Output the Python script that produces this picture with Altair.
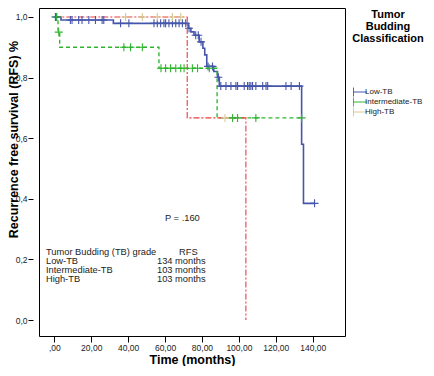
import altair as alt
import pandas as pd
import numpy as np

groups = ["Low-TB", "Intermediate-TB", "High-TB"]

# Kaplan-Meier step points (time in months, survival after the step)
low_t = [0, 3.6, 32.0, 72.5, 74.0, 75.7, 78.5, 80.5, 81.5, 82.6, 86.4, 88.4, 89.4, 134.0, 135.0, 141.0]
low_s = [1.0, 0.990, 0.979, 0.963, 0.951, 0.940, 0.918, 0.897, 0.875, 0.837, 0.820, 0.801, 0.772, 0.580, 0.385, 0.385]
low_cens = [0.6, 1.2, 8.7, 9.6, 13.2, 15.0, 18.7, 22.3, 25.9, 26.8, 35.9, 40.4, 54.0, 55.8, 57.6,
            59.4, 60.3, 62.1, 64.0, 65.8, 67.6, 69.4, 71.2, 73.0, 76.6, 78.0, 79.5, 83.3, 85.7, 88.9,
            90.2, 93.0, 95.7, 98.4, 99.3, 102.9, 104.7, 105.6, 106.5, 107.4, 109.2, 112.9, 114.7,
            115.6, 125.5, 128.3, 132.8, 141.0]

int_t = [0, 2.0, 2.9, 56.7, 88.2, 134.0]
int_s = [1.0, 0.95, 0.90, 0.831, 0.667, 0.667]
int_cens = [1.3, 2.4, 37.7, 41.3, 47.7, 57.8, 60.3, 63.0, 65.8, 68.5, 70.3, 74.8, 77.6, 84.0,
            96.6, 99.3, 109.2, 134.0]

high_t = [0, 72.0, 103.8]
high_s = [1.0, 0.667, 0.0]
high_cens = [38.6, 47.7, 55.8, 64.0, 68.5, 92.5]

x_ticks = [0, 20, 40, 60, 80, 100, 120, 140]
y_ticks = [0.0, 0.2, 0.4, 0.6, 0.8, 1.0]

line_colors = ["#4555ab", "#2eb52e", "#ee3a3a"]
cross_colors = ["#4555ab", "#2eb52e", "#d6c994"]


def steps(name, ts, ss):
    return pd.DataFrame({"group": name, "t": ts, "s": ss, "i": range(len(ts))})


def cens(name, ct, ts, ss):
    idx = np.searchsorted(np.array(ts), np.array(ct), side="right") - 1
    return pd.DataFrame({"group": name, "t": ct, "s": np.array(ss)[idx]})


steps_df = pd.concat([steps(groups[0], low_t, low_s),
                      steps(groups[1], int_t, int_s),
                      steps(groups[2], high_t, high_s)], ignore_index=True)
cens_df = pd.concat([cens(groups[0], low_cens, low_t, low_s),
                     cens(groups[1], int_cens, int_t, int_s),
                     cens(groups[2], high_cens, high_t, high_s)], ignore_index=True)

NARROW = "Liberation Sans Narrow, Arial Narrow, Liberation Sans"
SANS = "Liberation Sans, Arial"

x_enc = alt.X("t:Q", scale=alt.Scale(domain=[-8.3, 157.5], nice=False, zero=False),
              axis=alt.Axis(values=x_ticks, title="Time (months)", tickSize=6,
                            labelPadding=1, titleY=23, titleBaseline="middle",
                            labelExpr="datum.value == 0 ? ',00' : replace(format(datum.value, '.2f'), '.', ',')"))
y_enc = alt.Y("s:Q", scale=alt.Scale(domain=[-0.0528, 1.0297], nice=False, zero=False),
              axis=alt.Axis(values=y_ticks, title="Recurrence free survival (RFS) %", offset=6,
                            tickSize=5, labelPadding=1, titleX=-19.5, titleY=131,
                            titleBaseline="middle", titleAlign="center",
                            labelExpr="replace(format(datum.value, '.1f'), '.', ',')"))

lines = alt.Chart(steps_df).mark_line(interpolate="step-after").encode(
    x=x_enc, y=y_enc,
    color=alt.Color("group:N", scale=alt.Scale(domain=groups, range=line_colors), legend=None),
    strokeDash=alt.StrokeDash("group:N", scale=alt.Scale(domain=groups, range=[[1, 0], [4, 3], [6, 2, 2, 2]]), legend=None),
    strokeWidth=alt.StrokeWidth("group:N", scale=alt.Scale(domain=groups, range=[1.6, 1.1, 1.1]), legend=None),
    detail="group:N",
    order="i:Q",
)

cross_path = "M-1,0H1M0,-1V1"
legend_path = "M-3.3,0H3.3M-1.2,-1.5V1.5"

crosses = alt.Chart(cens_df).mark_point(shape=cross_path, filled=False, size=64, strokeWidth=1.1, opacity=1).encode(
    x="t:Q", y="s:Q",
    color=alt.Color("group:N", scale=alt.Scale(domain=groups, range=cross_colors),
                    legend=alt.Legend(title=["Tumor", "Budding", "Classification"], orient="none",
                                      legendX=313, legendY=1, symbolType=legend_path, symbolSize=36,
                                      symbolStrokeWidth=1, labelFont=SANS, labelFontSize=8,
                                      labelColor="#222222", labelOffset=4, rowPadding=0, clipHeight=10,
                                      titleFont=SANS, titleFontSize=11, titleFontWeight="bold",
                                      titleColor="black", titleAlign="center", titleAnchor="middle",
                                      titleLineHeight=12, titlePadding=43, padding=0)),
)


def note(txt, x, y):
    return alt.Chart(pd.DataFrame({"a": [0]})).mark_text(
        text=txt, align="left", baseline="middle", font=SANS, fontSize=9.3, color="#222222"
    ).encode(x=alt.value(x), y=alt.value(y))


notes = [
    note("P = .160", 126, 210),
    note("Tumor Budding (TB) grade", 7, 243.7),
    note("RFS", 140, 243.7),
    note("Low-TB", 7, 252.5),
    note("134 months", 118, 252.5),
    note("Intermediate-TB", 7, 262),
    note("103 months", 118, 262),
    note("High-TB", 7, 271.3),
    note("103 months", 118, 271.3),
]

chart = alt.layer(lines, crosses, *notes).resolve_scale(
    color="independent", strokeDash="independent", strokeWidth="independent"
).properties(
    width=306, height=328,
    padding={"left": 31, "top": 0, "right": 81, "bottom": 30},
    autosize=alt.AutoSizeParams(type="none"),
).configure_view(stroke="black", strokeWidth=1).configure_axis(
    grid=False, domain=False, tickColor="black", labelColor="#222222", labelFont=NARROW,
    labelFontSize=8.5, titleFont=SANS, titleFontSize=12.5, titleFontWeight="bold", titleColor="black",
)

chart.save("out.html", embed_options={"renderer": "svg", "actions": False})
